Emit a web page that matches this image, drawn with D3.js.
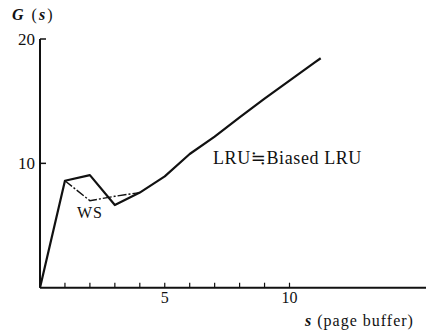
<!DOCTYPE html>
<html><head><meta charset="utf-8">
<script src="https://cdn.jsdelivr.net/npm/d3@7"></script>
<style>
body{margin:0;background:#fff;}
text{font-family:"Liberation Serif","DejaVu Serif",serif;fill:#111;}
</style></head>
<body><svg id="c" width="426" height="334"></svg>
<script>
const lruX = [0, 1, 2, 3, 4, 5, 6, 7, 8, 9, 10, 11, 11.25];
const lruY = [0, 8.6, 9.05, 6.65, 7.65, 8.95, 10.75, 12.15, 13.7, 15.2, 16.65, 18.1, 18.45];
const wsX = [1, 2, 3, 4];
const wsY = [8.6, 7.0, 7.35, 7.65];
const xTicks = [1,2,3,4,5,6,7,8,9,10];
const xTickLabels = [5, 10];
const yTickLabels = [10, 20];

const svg = d3.select("#c");
const x = d3.scaleLinear().domain([0, 10]).range([40, 289.5]);
const y = d3.scaleLinear().domain([0, 20]).range([287.7, 39]);

// axes
svg.append("line").attr("x1", x(0)).attr("x2", 426).attr("y1", y(0)).attr("y2", y(0))
  .attr("stroke", "#111").attr("stroke-width", 2);
svg.append("line").attr("x1", x(0)).attr("x2", x(0)).attr("y1", y(0)).attr("y2", y(20))
  .attr("stroke", "#111").attr("stroke-width", 2);
svg.selectAll(".xt").data(xTicks).enter().append("line")
  .attr("x1", d => x(d)).attr("x2", d => x(d)).attr("y1", y(0)).attr("y2", y(0) - 5)
  .attr("stroke", "#111").attr("stroke-width", 1.2);
svg.selectAll(".yt").data(yTickLabels).enter().append("line")
  .attr("x1", x(0)).attr("x2", x(0) + 6).attr("y1", d => y(d)).attr("y2", d => y(d))
  .attr("stroke", "#111").attr("stroke-width", 1.5);
svg.selectAll(".xl").data(xTickLabels).enter().append("text")
  .attr("x", d => x(d)).attr("y", 303).attr("text-anchor", "middle")
  .attr("font-size", 16).text(d => d);
svg.selectAll(".yl").data(yTickLabels).enter().append("text")
  .attr("x", 35).attr("y", d => y(d) + 6).attr("text-anchor", "end")
  .attr("font-size", 17).text(d => d);

// lines
const line = d3.line().x(d => x(d[0])).y(d => y(d[1]));
svg.append("path").datum(lruX.map((v, i) => [v, lruY[i]])).attr("d", line)
  .attr("fill", "none").attr("stroke", "#111").attr("stroke-width", 2.2).attr("stroke-linejoin", "round");
svg.append("path").datum(wsX.map((v, i) => [v, wsY[i]])).attr("d", line)
  .attr("fill", "none").attr("stroke", "#111").attr("stroke-width", 1.4)
  .attr("stroke-dasharray", "9,2,2,2");

// labels
const g = svg.append("text").attr("x", 12).attr("y", 20).attr("font-size", 16).attr("letter-spacing", 2);
g.append("tspan").attr("font-style", "italic").attr("font-weight", "bold").text("G");
g.append("tspan").text(" (");
g.append("tspan").attr("font-style", "italic").attr("font-weight", "bold").text("s");
g.append("tspan").text(")");
svg.append("text").attr("x", 77).attr("y", 218).attr("font-size", 16).attr("letter-spacing", 1).text("WS");
svg.append("text").attr("x", 213).attr("y", 164).attr("font-size", 18).attr("letter-spacing", 0.6).text("LRU≒Biased LRU");
const s = svg.append("text").attr("x", 305).attr("y", 326).attr("font-size", 16).attr("letter-spacing", 1);
s.append("tspan").attr("font-style", "italic").attr("font-weight", "bold").text("s");
s.append("tspan").text(" (page  buffer)");
</script></body></html>
